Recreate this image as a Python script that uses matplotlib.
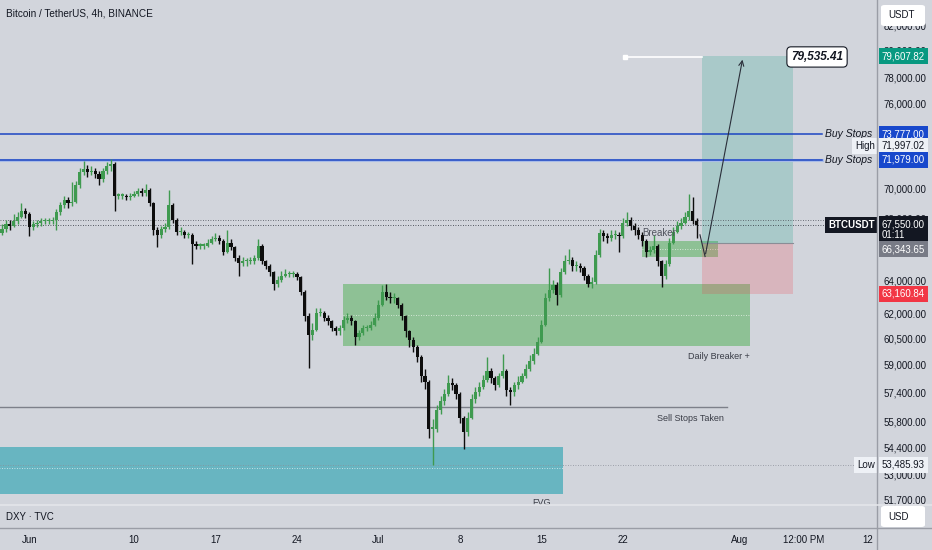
import numpy as np
import pandas as pd
import matplotlib
matplotlib.use("Agg")
import matplotlib.pyplot as plt
import matplotlib.dates as mdates
from matplotlib.lines import Line2D
from matplotlib.patches import Rectangle, FancyBboxPatch
from matplotlib.ticker import FixedLocator, NullLocator, FuncFormatter

last_bar = "2024-07-28 08:00"
first_open = 67.0
closes = [
    67.3, 67.6,
    67.5, 67.8, 68.1, 68.5, 68.3, 67.4, 67.6, 67.7, 67.8, 67.8,
    67.8, 67.9, 68.4, 68.9, 69.2, 69.0, 69.1, 70.2, 71.1, 71.3,
    71.1, 71.2, 71.0, 70.6, 71.2, 71.5, 71.7, 69.5, 69.5, 69.5,
    69.4, 69.5, 69.6, 69.8, 69.7, 69.9, 69.0, 67.2, 66.9, 67.3,
    67.4, 68.9, 67.9, 67.1, 67.1, 66.9, 66.9, 66.3, 66.2, 66.2,
    66.2, 66.4, 66.6, 66.7, 66.5, 65.8, 66.4, 66.1, 65.4, 65.1,
    65.2, 65.2, 65.2, 65.4, 66.2, 65.2, 64.9, 64.5, 63.8, 64.0,
    64.3, 64.4, 64.4, 64.4, 64.2, 63.3, 61.8, 60.7, 61.0, 62.0,
    62.0, 61.7, 61.5, 61.1, 60.9, 61.1, 61.6, 61.7, 61.5, 60.6,
    60.8, 61.1, 61.1, 61.3, 61.7, 62.5, 63.3, 63.0, 62.9, 62.9,
    62.5, 61.8, 60.9, 60.4, 60.0, 59.4, 58.3, 58.0, 55.4, 55.4,
    56.4, 56.9, 57.3, 57.9, 57.8, 57.3, 56.0, 55.2, 56.0, 57.0,
    57.4, 57.7, 58.1, 58.6, 58.2, 57.8, 58.3, 58.6, 57.5, 57.4,
    57.8, 58.0, 58.3, 58.7, 59.2, 59.6, 60.3, 61.3, 62.9, 63.4,
    63.7, 63.1, 64.5, 65.2, 65.3, 64.9, 64.9, 64.8, 64.3, 63.8,
    63.9, 65.6, 67.0, 66.8, 66.7, 66.9, 66.9, 66.8, 67.7, 67.9,
    67.5, 67.2, 66.9, 66.5, 65.8, 65.9, 66.2, 65.2, 64.3, 65.0,
    66.4, 67.1, 67.5, 67.7, 68.1, 68.5, 67.8, 67.55,
]
highs = [
    67.6, 67.9,
    67.9, 68.3, 68.4, 69.0, 68.7, 68.4, 67.8, 67.9, 68.0, 68.0,
    68.0, 68.1, 68.6, 69.1, 69.5, 69.4, 70.4, 70.5, 71.4, 71.9,
    71.6, 71.5, 71.4, 71.2, 71.4, 71.8, 72.0, 71.8, 69.7, 69.7,
    69.6, 69.7, 69.8, 70.0, 70.0, 70.3, 70.0, 69.1, 67.4, 67.5,
    67.7, 69.9, 69.0, 68.0, 67.4, 67.2, 67.1, 67.0, 66.5, 66.4,
    66.4, 66.6, 66.8, 67.0, 66.9, 66.6, 67.2, 66.6, 66.2, 65.6,
    65.5, 65.4, 65.5, 65.6, 66.6, 66.3, 65.3, 65.0, 64.6, 64.3,
    64.6, 64.7, 64.6, 64.6, 64.5, 64.3, 63.4, 62.0, 61.4, 62.3,
    62.3, 62.1, 61.9, 61.6, 61.2, 61.3, 61.8, 62.0, 61.9, 61.6,
    61.0, 61.3, 61.3, 61.5, 62.0, 62.8, 63.7, 63.8, 63.3, 63.2,
    63.0, 62.6, 61.9, 61.0, 60.6, 60.1, 59.5, 58.7, 58.1, 55.9,
    56.7, 57.2, 57.6, 58.4, 58.2, 57.9, 57.4, 56.1, 56.3, 57.3,
    57.7, 58.0, 58.4, 59.4, 58.8, 58.3, 58.5, 59.6, 58.7, 57.7,
    58.0, 58.3, 58.5, 59.0, 59.5, 59.9, 60.6, 61.6, 63.2, 64.8,
    64.0, 63.9, 64.8, 65.6, 66.0, 65.5, 65.2, 65.1, 64.9, 64.4,
    64.2, 65.9, 67.3, 67.2, 67.0, 67.2, 67.2, 67.1, 68.0, 68.4,
    68.1, 67.7, 67.4, 67.1, 66.6, 66.2, 66.9, 66.3, 65.3, 65.3,
    66.7, 67.4, 67.8, 68.0, 68.4, 69.6, 69.4, 68.0,
]
lows = [
    66.9, 67.1,
    67.2, 67.4, 67.6, 68.0, 68.0, 66.8, 67.2, 67.4, 67.5, 67.6,
    67.6, 67.6, 67.2, 68.2, 68.7, 68.7, 68.8, 69.0, 70.0, 70.9,
    70.8, 70.9, 70.7, 70.2, 70.4, 71.0, 71.2, 68.5, 69.3, 69.3,
    69.2, 69.2, 69.4, 69.5, 69.5, 69.5, 68.8, 66.9, 66.1, 66.7,
    67.1, 67.3, 67.7, 66.9, 66.9, 66.7, 66.7, 65.0, 66.0, 66.0,
    66.0, 66.1, 66.3, 66.5, 66.3, 65.6, 65.7, 65.9, 65.2, 64.3,
    64.9, 64.9, 65.0, 65.0, 65.3, 65.0, 64.7, 64.3, 63.4, 63.6,
    63.9, 64.2, 64.2, 64.2, 64.0, 63.1, 61.5, 58.8, 60.4, 60.9,
    61.8, 61.5, 61.3, 60.9, 60.7, 60.7, 61.0, 61.4, 61.3, 60.1,
    60.4, 60.7, 60.9, 61.0, 61.2, 61.6, 62.4, 62.8, 62.6, 62.6,
    62.3, 61.6, 60.6, 60.0, 59.7, 59.1, 58.0, 57.6, 54.9, 53.5,
    55.2, 56.2, 56.7, 57.2, 57.5, 57.0, 55.7, 54.3, 55.0, 55.9,
    56.8, 57.2, 57.6, 58.0, 57.9, 57.5, 57.7, 58.2, 57.2, 56.7,
    57.2, 57.6, 57.9, 58.2, 58.6, 59.0, 59.5, 60.2, 61.2, 62.7,
    63.2, 62.5, 63.0, 64.4, 65.0, 64.6, 64.6, 64.5, 64.0, 63.6,
    63.5, 63.8, 65.5, 66.5, 66.4, 66.5, 66.6, 65.8, 66.7, 67.5,
    67.2, 66.9, 66.6, 66.2, 65.5, 65.6, 65.7, 64.9, 63.6, 64.1,
    64.9, 66.3, 67.0, 67.3, 67.6, 67.9, 67.6, 66.7,
]

price_ticks = [82000, 80000, 78000, 76000, 70000, 68000, 64000, 62000,
               60500, 59000, 57400, 55800, 54400, 53000, 51700]
date_ticks = ["2024-06-01", "2024-06-10", "2024-06-17", "2024-06-24", "2024-07-01",
              "2024-07-08", "2024-07-15", "2024-07-22", "2024-08-01",
              "2024-08-06 12:00", "2024-08-12"]
date_labels = ["Jun", "10", "17", "24", "Jul", "8", "15", "22", "Aug", "12:00 PM", "12"]

buy_stops = [73777.00, 71979.00]
range_high = 71997.02
range_low = 53485.93
last_price = 67550.00
prior_level = 67900.0
sell_stops = 56580.0
entry = 66343.65
target = 79607.82
stop = 63160.84
projection = 79535.41
daily_breaker = (60040.0, 61900.0, 63770.0)   # low, mid, high
breaker = (65500.0, 66000.0, 66500.0)
fvg = (52000.0, 53300.0, 54420.0)

BG = "#d2d5dc"
TXT = "#131722"
UP = "#3f9a50"
DOWN = "#0d0d0d"

plt.rcParams["font.family"] = ["Liberation Sans", "DejaVu Sans"]


def dn(s):
    return mdates.date2num(pd.Timestamp(s).to_pydatetime())


W, H = 932, 550
fig = plt.figure(figsize=(W / 100, H / 100), dpi=100)
fig.patch.set_facecolor(BG)

ax = fig.add_axes([0, 45 / H, 877 / W, 505 / H])
dx = fig.add_axes([0, 22 / H, 877 / W, 23 / H], sharex=ax)
for a in (ax, dx):
    a.set_facecolor(BG)
    for sp in a.spines.values():
        sp.set_visible(False)

ax.set_yscale("log")
ax.set_ylim(51439, 84067)
ax.set_xlim(dn("2024-05-29 11:45"), dn("2024-08-12 20:00"))

# candles
xs = mdates.date2num(pd.date_range(end=last_bar, periods=len(closes), freq="8h").to_pydatetime())
c = np.array(closes) * 1000
o = np.concatenate([[first_open], closes[:-1]]) * 1000
hi = np.array(highs) * 1000
lo = np.array(lows) * 1000
cols = [UP if cc >= oo else DOWN for cc, oo in zip(c, o)]
ax.vlines(xs, lo, hi, colors=cols, lw=1.0, zorder=4)
bottoms = np.minimum(o, c)
heights = np.maximum(np.abs(c - o), 80)
ax.bar(xs, heights, bottom=bottoms, width=0.27, color=cols, lw=0, zorder=4)

# zones
x_left = dn("2024-05-20")
ax.add_patch(Rectangle((dn("2024-06-27 23:00"), daily_breaker[0]),
                       dn("2024-08-01 22:00") - dn("2024-06-27 23:00"),
                       daily_breaker[2] - daily_breaker[0],
                       fc=(76 / 255, 175 / 255, 80 / 255, 0.5), ec="none", zorder=2))
ax.plot([dn("2024-06-27 23:00"), dn("2024-08-01 22:00")], [daily_breaker[1]] * 2,
        color="white", lw=0.6, ls=(0, (1, 2)), alpha=0.8, zorder=2)
ax.text(dn("2024-08-01 22:00"), 59450, "Daily Breaker +", fontsize=6.5, color="#3a3d47",
        ha="right", va="center", zorder=6)

ax.add_patch(Rectangle((dn("2024-07-23 15:30"), breaker[0]),
                       dn("2024-07-30 04:20") - dn("2024-07-23 15:30"),
                       breaker[2] - breaker[0],
                       fc=(76 / 255, 175 / 255, 80 / 255, 0.5), ec="none", zorder=2))
ax.plot([dn("2024-07-23 15:30"), dn("2024-07-30 04:20")], [breaker[1]] * 2,
        color="white", lw=0.6, ls=(0, (1, 2)), alpha=0.8, zorder=2)
ax.text(dn("2024-07-23 16:00"), 67050, "Breaker", fontsize=7, color="#50535e",
        ha="left", va="center", zorder=5)

ax.add_patch(Rectangle((x_left, fvg[0]), dn("2024-07-16 20:40") - x_left, fvg[2] - fvg[0],
                       fc=(0, 151 / 255, 167 / 255, 0.5), ec="none", zorder=2))
ax.plot([x_left, dn("2024-07-16 20:40")], [fvg[1]] * 2,
        color="white", lw=0.6, ls=(0, (1, 2)), alpha=0.8, zorder=2)
ax.text(dn("2024-07-15 00:00"), 51790, "FVG", fontsize=6.5, color="#3a3d47",
        ha="center", va="top", zorder=6, clip_on=True)

# levels
for lvl in buy_stops:
    if lvl == buy_stops[1]:
        ax.plot([x_left, dn("2024-08-08 02:25")], [lvl] * 2, color="#a9bce8", lw=2.2, zorder=3)
    ax.plot([x_left, dn("2024-08-08 02:25")], [lvl] * 2, color="#1c45c2", lw=1.1, zorder=3)
    ax.text(872 / 877, lvl, "Buy Stops", transform=ax.get_yaxis_transform(),
            style="italic", fontsize=7.5, color=TXT, ha="right", va="center", zorder=6)

ax.plot([x_left, dn("2024-07-30 22:50")], [sell_stops] * 2, color="#7d808a", lw=1, zorder=3)
ax.text(dn("2024-07-27 18:30"), 55950, "Sell Stops Taken", fontsize=6.5, color="#3a3d47",
        ha="center", va="center", zorder=6)

ax.axhline(prior_level, color="#4a4d57", lw=0.6, ls=(0, (1, 2)), zorder=3)
ax.axhline(last_price, color="#2a2e39", lw=0.6, ls=(0, (1, 2)), zorder=3)
ax.axhline(range_low, color="#8c8f99", lw=0.6, ls=(0, (1, 2)), zorder=3)

# long position tool
p0, p1 = dn("2024-07-28 19:10"), dn("2024-08-05 15:00")
ax.add_patch(Rectangle((p0, entry), p1 - p0, target - entry,
                       fc=(8 / 255, 153 / 255, 129 / 255, 0.2), ec="none", zorder=2))
ax.add_patch(Rectangle((p0, stop), p1 - p0, entry - stop,
                       fc=(242 / 255, 54 / 255, 69 / 255, 0.2), ec="none", zorder=2))
ax.plot([p0, p1], [entry] * 2, color="#8a8d96", lw=0.8, zorder=3)

# projection path
ax.plot([dn("2024-07-22 04:20"), p0], [projection] * 2, color="white", lw=1.2, zorder=5)
ax.plot([dn("2024-07-22 04:20")], [projection], marker="s", ms=3.5, color="white", zorder=5)
ax.plot([dn("2024-07-28 15:00"), dn("2024-07-29 01:30")], [66900, 65500],
        color="#2a2e39", lw=0.8, zorder=5)
ax.annotate("", xy=(dn("2024-08-01 07:40"), projection), xytext=(dn("2024-07-29 01:30"), 65500),
            arrowprops=dict(arrowstyle="->", color="#2a2e39", lw=0.8, mutation_scale=9),
            zorder=5)
ax.text(dn("2024-08-07 16:20"), projection, "79,535.41", fontsize=8.5, fontweight="bold",
        style="italic", color=TXT, ha="center", va="center", zorder=7,
        bbox=dict(boxstyle="round,pad=0.35", fc="white", ec=TXT, lw=0.8))

# y axis on the right
ax.yaxis.tick_right()
ax.yaxis.set_major_locator(FixedLocator(price_ticks))
ax.yaxis.set_minor_locator(NullLocator())
ax.yaxis.set_major_formatter(FuncFormatter(lambda v, p: f"{v:,.2f}"))
ax.tick_params(axis="y", length=0, pad=5, labelsize=7, labelcolor=TXT)
ax.tick_params(axis="x", bottom=False, labelbottom=False)


def tag(y, s, fc, tc, x=1.001, ha="left", dy=0, **kw):
    ax.annotate(s, xy=(x, y), xycoords=("axes fraction", "data"), xytext=(4 if ha == "left" else -2, dy),
                textcoords="offset pixels", ha=ha, va="center", fontsize=7, color=tc,
                annotation_clip=False, zorder=10,
                bbox=dict(boxstyle="square,pad=0.3", fc=fc, ec="none"), **kw)


tag(target, "79,607.82", "#089981", "white")
tag(buy_stops[0], "73,777.00", "#1848cc", "white")
tag(range_high, "71,997.02", "#eef1f6", TXT, dy=13.5)
tag(range_high, "High", "#eef1f6", TXT, x=1.0, ha="right", dy=13.5)
tag(buy_stops[1], "71,979.00", "#1848cc", "white")
tag(last_price, "67,550.00\n01:11", "#131722", "white", dy=-5, linespacing=1.15)
tag(last_price, "BTCUSDT", "#131722", "white", x=1.0, ha="right", fontweight="bold")
tag(entry, "66,343.65", "#787b86", "white", dy=-6)
tag(stop, "63,160.84", "#f23645", "white")
tag(range_low, "53,485.93", "#eef1f6", TXT)
tag(range_low, "Low", "#eef1f6", TXT, x=1.0, ha="right")

# lower pane and time axis
dx.set_yticks([])
dx.set_xticks([dn(d) for d in date_ticks])
dx.set_xticklabels(date_labels)
dx.tick_params(axis="x", length=0, pad=5, labelsize=7, labelcolor=TXT)
dx.text(6 / 877, 0.5, "DXY · TVC", transform=dx.transAxes, fontsize=7, color=TXT,
        ha="left", va="center")

fig.text(6 / W, 1 - 13 / H, "Bitcoin / TetherUS, 4h, BINANCE", fontsize=7.2, color=TXT,
         ha="left", va="center")

# unit boxes
for y0, lab in ((5, "USDT"), (506, "USD")):
    fig.add_artist(FancyBboxPatch((881 / W, 1 - (y0 + 21) / H), 44 / W, 21 / H,
                                  boxstyle="round,pad=0,rounding_size=0.004",
                                  transform=fig.transFigure, fc="white", ec="none", zorder=5))
    fig.text(888 / W, 1 - (y0 + 10.5) / H, lab, fontsize=7, color=TXT, ha="left",
             va="center", zorder=6)

# separators
fig.add_artist(Line2D([877 / W] * 2, [0, 1], color="#9a9da6", lw=1, transform=fig.transFigure))
fig.add_artist(Line2D([0, 1], [45 / H] * 2, color="#e3e5ea", lw=1.2, transform=fig.transFigure))
fig.add_artist(Line2D([0, 1], [22 / H] * 2, color="#9a9da6", lw=1, transform=fig.transFigure))

fig.savefig("out.png", dpi=100, facecolor=BG)
